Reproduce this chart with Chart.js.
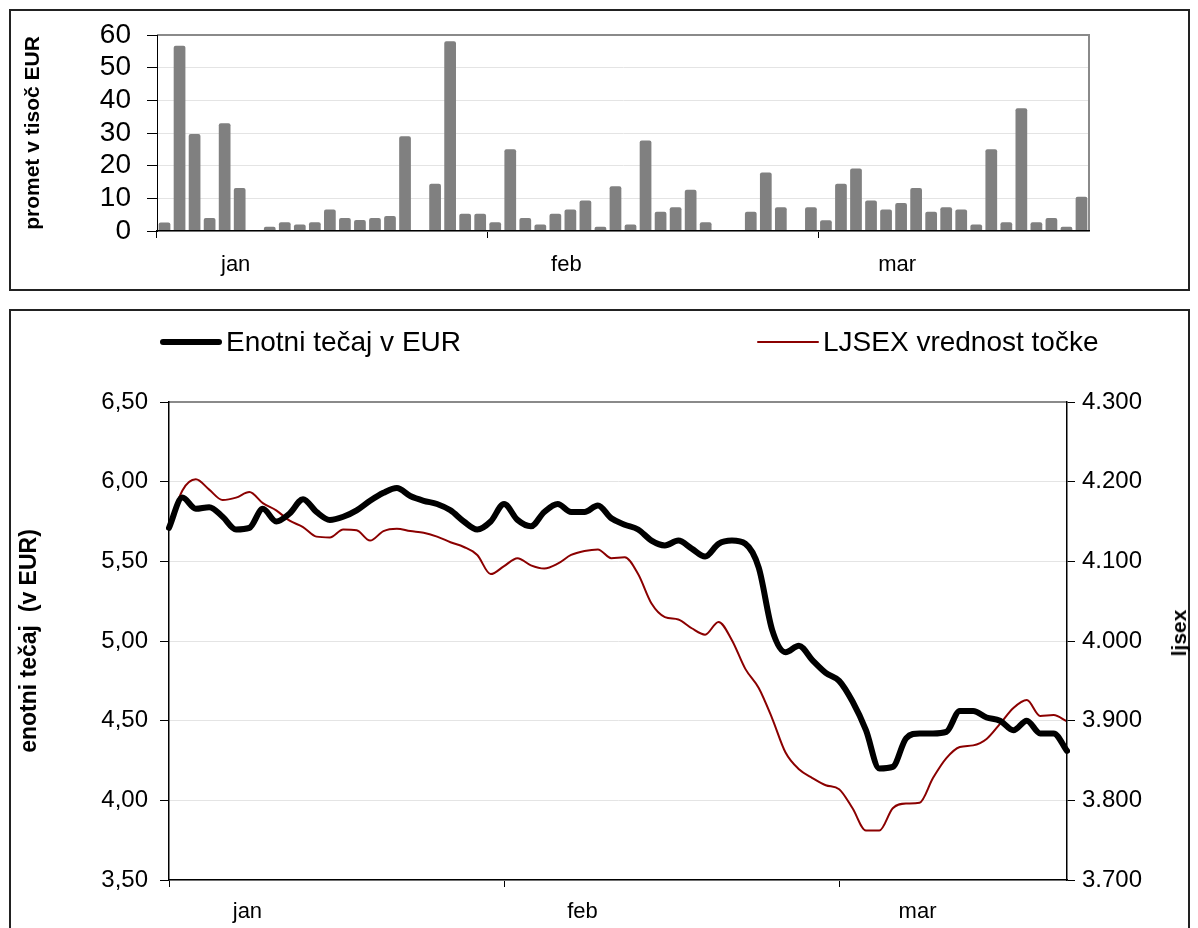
<!DOCTYPE html>
<html>
<head>
<meta charset="utf-8">
<script src="https://cdn.jsdelivr.net/npm/chart.js@4.4.1/dist/chart.umd.min.js"></script>
<style>
  body { margin: 0; background: #fff; width: 1198px; height: 928px; overflow: hidden; position: relative;
         font-family: 'Liberation Sans', Arial, sans-serif; }
  .okvir { position: absolute; left: 9px; width: 1177px; border: 2px solid #222; background: #fff; }
  #okvirPromet { top: 9px; height: 278px; }
  #okvirTecaj { top: 309px; height: 640px; }
  canvas { position: absolute; left: 0; top: 0; }
  .item { position: absolute; top: 13px; height: 36px; display: flex; align-items: center; font-size: 28px; color: #000; white-space: nowrap; }
  .crta { display: inline-block; width: 62px; margin-right: 4px; border-radius: 3px; }
  #ljsex { position: absolute; left: 1168px; top: 322px; transform: translate(-50%, -50%) rotate(-90deg);
           font-weight: bold; font-size: 21px; white-space: nowrap; }
</style>
</head>
<body>
<div class="okvir" id="okvirPromet">
  <canvas id="grafPromet" width="1177" height="278"></canvas>
</div>
<div class="okvir" id="okvirTecaj">
  <canvas id="grafTecaj" width="1177" height="617"></canvas>
  <div id="legenda"></div>
  <div id="ljsex">ljsex</div>
</div>
<script>
const meseci = ["jan", "feb", "mar"];
const dniPromet = [22, 22, 18];
const dniTecaj = [25, 25, 18];

// promet v tisoc EUR, po trgovalnih dneh
const promet = [
  2.6, 56.7, 29.7, 4.0, 33.0, 13.2, 0, 1.3, 2.7, 2.0, 2.7, 6.6, 4.0, 3.4, 4.0, 4.6, 29.0, 0, 14.5, 58.1, 5.3, 5.3,
  2.7, 25.0, 4.0, 2.0, 5.3, 6.6, 9.3, 1.3, 13.7, 2.0, 27.7, 5.9, 7.3, 12.6, 2.7, 0, 0, 5.9, 17.9, 7.3, 0, 7.3,
  3.3, 14.5, 19.1, 9.3, 6.6, 8.6, 13.2, 5.9, 7.3, 6.6, 2.0, 25.0, 2.7, 37.6, 2.7, 4.0, 1.3, 10.5,
];

const enotniTecaj = [
  5.71, 5.90, 5.83, 5.84, 5.78, 5.70, 5.71, 5.83, 5.75, 5.80,
  5.89, 5.81, 5.76, 5.78, 5.82, 5.88, 5.93, 5.96, 5.91, 5.88,
  5.86, 5.82, 5.75, 5.70, 5.75, 5.86, 5.76, 5.72, 5.81, 5.86,
  5.81, 5.81, 5.85, 5.77, 5.73, 5.70, 5.63, 5.60, 5.63, 5.58,
  5.53, 5.61, 5.63, 5.61, 5.46, 5.07, 4.93, 4.97, 4.88, 4.80,
  4.75, 4.62, 4.44, 4.20, 4.21, 4.39, 4.42, 4.42, 4.43, 4.56,
  4.56, 4.52, 4.50, 4.44, 4.50, 4.42, 4.42, 4.31,
];

const ljsex = [
  4143, 4189, 4203, 4190, 4177, 4180, 4187, 4173, 4164, 4151,
  4143, 4131, 4130, 4140, 4139, 4126, 4138, 4141, 4138, 4136,
  4131, 4124, 4118, 4108, 4084, 4094, 4104, 4095, 4091, 4097,
  4108, 4113, 4115, 4104, 4105, 4084, 4047, 4030, 4027, 4016,
  4008, 4024, 4001, 3965, 3941, 3903, 3860, 3839, 3828, 3819,
  3814, 3790, 3762, 3762, 3790, 3796, 3797, 3828, 3853, 3867,
  3869, 3877, 3896, 3916, 3926, 3906, 3907, 3899,
];

Chart.defaults.font.family = "'Liberation Sans', Arial, sans-serif";
Chart.defaults.color = "#000";

function oznake(dni, kje) {
  const out = [];
  dni.forEach((n, m) => {
    for (let d = 0; d < n; d++) out.push(d === kje ? meseci[m] : "");
  });
  return out;
}

function meje(dni) {
  const out = [];
  let s = 0;
  dni.forEach((n) => { out.push(s); s += n; });
  return out;
}

function mejaMeseca(ctx, seznam) {
  return seznam.includes(ctx.index) ? "#000" : "rgba(0,0,0,0)";
}

function tisocice(v) {
  return String(Math.round(v)).replace(/(\d)(\d{3})$/, "$1.$2");
}

const okvirPlugin = {
  id: "okvir",
  beforeDatasetsDraw(chart, args, opts) {
    const { ctx, chartArea: a } = chart;
    ctx.save();
    ctx.strokeStyle = "#8a8a8a";
    ctx.lineWidth = 2;
    ctx.beginPath();
    ctx.moveTo(a.left, a.top);
    ctx.lineTo(a.right, a.top);
    if (opts.desno) ctx.lineTo(a.right, a.bottom);
    ctx.stroke();
    ctx.restore();
  },
};

const mejePromet = meje(dniPromet);
const mejeTecaj = meje(dniTecaj);

new Chart(document.getElementById("grafPromet"), {
  type: "bar",
  data: {
    labels: oznake(dniPromet, 5),
    datasets: [
      {
        label: "promet",
        data: promet,
        backgroundColor: "#808080",
        barPercentage: 0.78,
        categoryPercentage: 1,
        borderRadius: { topLeft: 2, topRight: 2 },
      },
    ],
  },
  options: {
    responsive: false,
    animation: false,
    layout: { padding: { top: 24, right: 99, left: 0, bottom: 0 } },
    plugins: { legend: { display: false }, tooltip: { enabled: false }, okvir: { desno: true } },
    scales: {
      x: {
        grid: { offset: true, drawOnChartArea: false, tickLength: 7, color: (c) => mejaMeseca(c, mejePromet) },
        ticks: { autoSkip: false, maxRotation: 0, padding: 14, labelOffset: -4, font: { size: 22 } },
        border: { color: "#000", width: 1.5, z: 1 },
        afterFit: (s) => { s.height = 58; },
      },
      y: {
        min: 0,
        max: 60,
        ticks: { stepSize: 10, autoSkip: false, padding: 16, font: { size: 28 } },
        grid: { color: "#e4e4e4", tickColor: "#000", tickLength: 10 },
        border: { color: "#000", z: 1 },
        title: { display: true, text: "promet v tisoč EUR", font: { size: 21, weight: "bold" }, padding: { top: 10, bottom: 0 } },
        afterFit: (s) => {
          s.width = 146;
          s.paddingTop = 0;
          s.paddingBottom = 0;
        },
      },
    },
  },
  plugins: [okvirPlugin],
});

const grafTecaj = new Chart(document.getElementById("grafTecaj"), {
  type: "line",
  data: {
    labels: oznake(dniTecaj, 6),
    datasets: [
      {
        label: "Enotni tečaj v EUR",
        data: enotniTecaj,
        yAxisID: "y",
        borderColor: "#000",
        borderWidth: 6,
        borderCapStyle: "round",
        borderJoinStyle: "round",
        pointRadius: 0,
        cubicInterpolationMode: "monotone",
        order: 1,
      },
      {
        label: "LJSEX vrednost točke",
        data: ljsex,
        yAxisID: "y2",
        borderColor: "#8b0000",
        borderWidth: 2,
        pointRadius: 0,
        cubicInterpolationMode: "monotone",
        order: 2,
      },
    ],
  },
  options: {
    responsive: false,
    animation: false,
    layout: { padding: { top: 91, right: 0, left: 0, bottom: 0 } },
    plugins: { legend: { display: false }, tooltip: { enabled: false }, okvir: { desno: false } },
    scales: {
      x: {
        offset: false,
        grid: { drawOnChartArea: false, tickLength: 7, color: (c) => mejaMeseca(c, mejeTecaj) },
        ticks: { autoSkip: false, maxRotation: 0, padding: 12, labelOffset: -2, font: { size: 22 } },
        border: { color: "#000", width: 1.5, z: 1 },
        afterFit: (s) => { s.height = 48; },
      },
      y: {
        position: "left",
        min: 3.5,
        max: 6.5,
        ticks: { stepSize: 0.5, padding: 12, font: { size: 24 }, callback: (v) => v.toFixed(2).replace(".", ",") },
        grid: { color: "#e4e4e4", tickColor: "#000", tickLength: 9 },
        border: { color: "#000", width: 1.5, z: 1 },
        title: { display: true, text: "enotni tečaj  (v EUR)", font: { size: 23, weight: "bold" }, padding: { top: 5, bottom: 0 } },
        afterFit: (s) => { s.width = 158; },
      },
      y2: {
        position: "right",
        min: 3700,
        max: 4300,
        ticks: { stepSize: 100, padding: 7, font: { size: 24 }, callback: (v) => tisocice(v) },
        grid: { drawOnChartArea: false, tickColor: "#000", tickLength: 8 },
        border: { color: "#000", width: 1.5, z: 1 },
        afterFit: (s) => { s.width = 121; },
      },
    },
  },
  plugins: [okvirPlugin],
});

function narisiLegendo(chart) {
  const zacetki = [149, 746];
  let html = "";
  chart.data.datasets.forEach((ds, i) => {
    html += `<div class="item" style="left:${zacetki[i]}px"><span class="crta" style="height:${ds.borderWidth}px;background:${ds.borderColor}"></span>${ds.label}</div>`;
  });
  document.getElementById("legenda").innerHTML = html;
}

narisiLegendo(grafTecaj);
</script>
</body>
</html>
